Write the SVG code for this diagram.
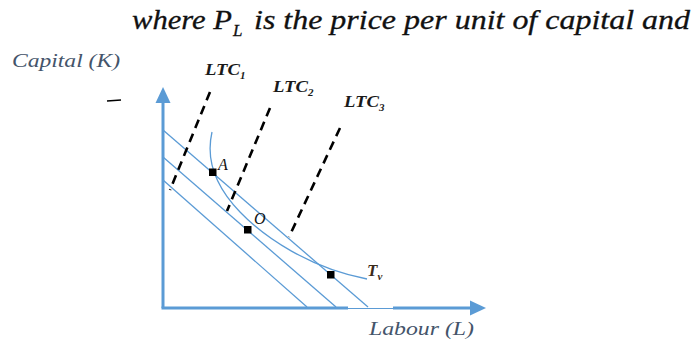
<svg xmlns="http://www.w3.org/2000/svg" width="694" height="341" viewBox="0 0 694 341">
<style>
.blue{stroke:#5b9bd5;fill:none}
.axis{stroke:#5b9bd5;stroke-width:3;fill:none}
.dash{stroke:#000;stroke-width:2.6;stroke-dasharray:9 6;fill:none}
text{font-family:"Liberation Serif","DejaVu Serif","Times New Roman",serif;font-style:italic}
.lbl{fill:#44546a;font-size:19px}
.ltc{font-weight:bold;fill:#1a1a1a;font-size:16px}
.pt{fill:#111;font-size:16px}
.top{fill:#111;font-size:27px;stroke:#111;stroke-width:0.3}
</style>
<rect width="694" height="341" fill="#fff"/>
<g id="heading">
<text class="top" x="132" y="29" textLength="100" lengthAdjust="spacingAndGlyphs">where P</text>
<text class="top" x="233" y="36" style="font-size:17px">L</text>
<text class="top" x="254" y="29" textLength="436" lengthAdjust="spacingAndGlyphs">is the price per unit of capital and</text>
</g>
<g id="axes">
<line class="axis" x1="163" y1="308" x2="163" y2="100"/>
<polygon points="163,87 155.5,103 170.5,103" fill="#5b9bd5"/>
<polyline class="axis" points="161.5,308 348,308"/>
<line x1="348" y1="308.5" x2="393" y2="308.5" stroke="#5b9bd5" stroke-width="1"/>
<line class="axis" x1="393" y1="308" x2="472" y2="308"/>
<polygon points="486,308 470,300.5 470,315.5" fill="#5b9bd5"/>
<text class="lbl" x="12" y="67" textLength="108" lengthAdjust="spacingAndGlyphs">Capital (K)</text>
<text class="lbl" x="369" y="335" textLength="105" lengthAdjust="spacingAndGlyphs">Labour (L)</text>
<line x1="107" y1="101" x2="121" y2="100" stroke="#000" stroke-width="1.5"/>
</g>
<g id="budget-lines">
<line class="blue" x1="163" y1="130" x2="368" y2="307" stroke-width="1.3"/>
<line class="blue" x1="163" y1="157" x2="336" y2="307" stroke-width="1.3"/>
<line class="blue" x1="163" y1="180" x2="307" y2="307" stroke-width="1.3"/>
</g>
<g id="isoquant">
<path class="blue" stroke-width="1.3" d="M212,132 C206,158 214,185 240,212 C265,238 310,268 367,279"/>
<text x="367" y="276" style="font-weight:bold;font-size:17px;fill:#3a2a1a">T<tspan dy="4" style="font-size:11px">v</tspan></text>
</g>
<g id="connectors">
<line class="dash" x1="210" y1="92" x2="170" y2="190"/>
<line class="dash" x1="270" y1="108" x2="227" y2="211"/>
<line class="dash" x1="340" y1="128" x2="289" y2="237"/>
</g>
<g id="ltc-labels">
<text class="ltc" x="205" y="75" textLength="35" lengthAdjust="spacingAndGlyphs">LTC</text>
<text class="ltc" x="240" y="79" style="font-size:11px">1</text>
<text class="ltc" x="273" y="92" textLength="35" lengthAdjust="spacingAndGlyphs">LTC</text>
<text class="ltc" x="308" y="96" style="font-size:11px">2</text>
<text class="ltc" x="344" y="107" textLength="35" lengthAdjust="spacingAndGlyphs">LTC</text>
<text class="ltc" x="379" y="111" style="font-size:11px">3</text>
</g>
<g id="point-A">
<rect x="209" y="168.5" width="7.5" height="7.5" fill="#000"/>
<text class="pt" x="218" y="170">A</text>
</g>
<g id="point-O">
<rect x="244" y="226" width="7.5" height="7.5" fill="#000"/>
<text class="pt" x="254" y="224">O</text>
</g>
<g id="point-T">
<rect x="327" y="271" width="7.5" height="7.5" fill="#000"/>
</g>
</svg>
